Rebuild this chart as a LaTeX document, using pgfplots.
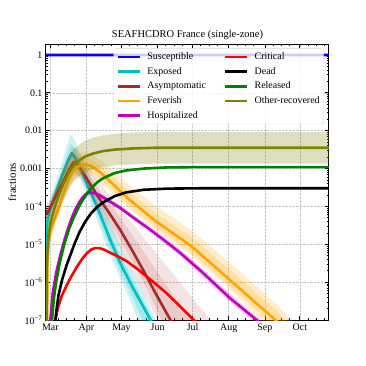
\documentclass[border=0pt]{standalone}
\usepackage{fontspec}
\setmainfont{Liberation Serif}
\usepackage{pgfplots}
\pgfplotsset{compat=1.18}
\definecolor{mcyan}{rgb}{0,0.75,0.75}
\definecolor{mbrown}{HTML}{A52A2A}
\definecolor{morange}{HTML}{FFA500}
\definecolor{mmag}{rgb}{0.75,0,0.75}
\definecolor{mgreen}{HTML}{008000}
\definecolor{molive}{HTML}{808000}
\begin{document}
\begin{tikzpicture}
\path[use as bounding box] (-46bp,-46bp) rectangle (320bp,320bp);
\begin{axis}[
  width=283bp, height=276bp, scale only axis,
  ymode=log, xmin=-3.7, xmax=239, ymin=1e-7, ymax=1.95,
  xtick={0,31,61,92,122,153,184,214},
  xticklabels={Mar,Apr,May,Jun,Jul,Aug,Sep,Oct},
  minor xtick={7,14,21,38,45,52,68,75,82,99,106,113,129,136,143,160,167,174,191,198,205,221,228,235},
  ytick={1e-7,1e-6,1e-5,1e-4,1e-3,1e-2,1e-1,1},
  yticklabels={10\textsuperscript{−7},10\textsuperscript{−6},10\textsuperscript{−5},10\textsuperscript{−4},0.001,0.01,0.1,1},
  minor ytick={2e-7,3e-7,4e-7,5e-7,6e-7,7e-7,8e-7,9e-7,2e-6,3e-6,4e-6,5e-6,6e-6,7e-6,8e-6,9e-6,2e-5,3e-5,4e-5,5e-5,6e-5,7e-5,8e-5,9e-5,2e-4,3e-4,4e-4,5e-4,6e-4,7e-4,8e-4,9e-4,2e-3,3e-3,4e-3,5e-3,6e-3,7e-3,8e-3,9e-3,2e-2,3e-2,4e-2,5e-2,6e-2,7e-2,8e-2,9e-2,2e-1,3e-1,4e-1,5e-1,6e-1,7e-1,8e-1,9e-1},
  tick align=inside,
  major tick length=4bp, minor tick length=2bp,
  every tick/.style={black, line width=0.7bp},
  axis line style={line width=1bp},
  grid=major, major grid style={densely dotted, gray!45, line width=0.5bp},
  tick label style={font=\fontsize{10}{12}\selectfont},
  title={SEAFHCDRO France (single-zone)},
  title style={font=\fontsize{10.5}{12.5}\selectfont, at={(0.5,1)}, anchor=south, yshift=-3.5bp, inner sep=2bp},
  ylabel={fractions},
  ylabel style={font=\fontsize{11}{13}\selectfont, at={(axis description cs:-0.12,0.5)}, anchor=center},
  legend columns=2,
  legend cell align=left,
  legend style={at={(0.982,0.984)}, anchor=north east, draw=gray!30, rounded corners=2bp,
    fill=white, fill opacity=0.8, text opacity=1, font=\fontsize{10}{12}\selectfont,
    inner sep=2.5bp, row sep=2.6bp,
    nodes={inner sep=1.5bp, text height=7bp, text depth=2bp},
    /tikz/every odd column/.append style={column sep=5bp},
    /tikz/every even column/.append style={column sep=16bp}},
  legend image code/.code={\draw[#1] (0bp,0bp) -- (22bp,0bp);},
  every axis plot/.append style={line join=round},
]
% Susceptible
\addplot[blue, line width=2.6bp, forget plot] coordinates {(-3.7,1) (239,0.996)};
% Exposed bands + line
\addplot[draw=none, fill=mcyan, fill opacity=0.2, forget plot] coordinates {
(-3.4,1e-6) (-3.2,2.512e-5) (0,1.778e-4) (10,1.413e-3) (17,7.943e-3) (20,6.607e-3) (30,1.259e-3) (40,2.399e-4) (50,4.467e-5) (60,8.913e-6) (70,1.995e-6) (80,5.012e-7) (95,5.012e-8)
(78,6.310e-8) (70,2.512e-7) (60,1.259e-6) (50,6.310e-6) (40,4.467e-5) (30,2.512e-4) (25,5.623e-4) (18.4,1.259e-3) (10,3.162e-4) (0,4.467e-5) (-3,5.012e-6) (-3.4,1e-9)};
\addplot[draw=none, fill=mcyan, fill opacity=0.2, forget plot] coordinates {
(-3.4,1e-6) (-3.2,1.585e-5) (0,1.259e-4) (10,9.550e-4) (17.5,4.467e-3) (21,3.548e-3) (30,7.943e-4) (40,1.585e-4) (50,2.818e-5) (60,5.370e-6) (70,1.259e-6) (90,7.943e-8)
(82,6.310e-8) (70,4.467e-7) (60,1.905e-6) (50,9.550e-6) (40,6.310e-5) (30,3.388e-4) (25,7.586e-4) (18.4,1.698e-3) (10,4.169e-4) (0,6.026e-5) (-3,7.943e-6) (-3.4,1e-9)};
\addplot[mcyan, line width=2.6bp, forget plot] coordinates {
(-3.5,1e-9) (-3.3,1e-5) (-3.0,3.162e-5) (-2,5.012e-5) (0,8.913e-5) (5,2.399e-4) (10,6.310e-4) (15,1.585e-3) (18.4,2.570e-3) (21,1.995e-3) (25,1.122e-3) (30,5.012e-4) (40,1e-4) (51,1.413e-5) (60,3.162e-6) (70,7.943e-7) (86,1e-7) (95,3.162e-8)};
% Asymptomatic
\addplot[draw=none, fill=mbrown, fill opacity=0.13, forget plot] coordinates {
(-3.7,1.122e-4) (0,1.585e-4) (10,7.943e-4) (19,3.548e-3) (22,3.311e-3) (30,1.413e-3) (40,5.012e-4) (60,8.710e-5) (80,1.514e-5) (100,2.630e-6) (120,4.467e-7) (140,7.943e-8)
(96,6.310e-8) (80,5.012e-7) (60,7.943e-6) (40,1e-4) (25,6.026e-4) (19,7.943e-4) (10,1.905e-4) (0,5.623e-5) (-3.7,4.467e-5)};
\addplot[draw=none, fill=mbrown, fill opacity=0.13, forget plot] coordinates {
(-3.7,9.550e-5) (0,1.259e-4) (10,5.623e-4) (19,2.399e-3) (22,2.291e-3) (30,1e-3) (40,3.311e-4) (60,5.012e-5) (80,6.310e-6) (100,7.943e-7) (120,1e-7) (125,5.623e-8)
(100,5.012e-8) (80,1e-6) (60,1.349e-5) (40,1.349e-4) (25,8.318e-4) (19,1.047e-3) (10,2.754e-4) (0,7.244e-5) (-3.7,5.888e-5)};
\addplot[mbrown, line width=2.6bp, forget plot] coordinates {
(-3.7,7.586e-5) (-2.5,6.607e-5) (-1.5,7.586e-5) (0,9.550e-5) (5,1.905e-4) (10,3.802e-4) (15,7.943e-4) (18,1.202e-3) (20,1.479e-3) (22,1.445e-3) (25,1.096e-3) (30,6.310e-4) (40,1.995e-4) (50,7.079e-5) (60,2.399e-5) (70,7.079e-6) (80,1.995e-6) (90,5.248e-7) (103,1e-7) (110,3.981e-8)};
% Feverish
\addplot[draw=none, fill=morange, fill opacity=0.2, forget plot] coordinates {
(-2.8,3.162e-6) (-1.5,1.995e-5) (0,5.012e-5) (8,2.239e-4) (16,1.072e-3) (24,2.399e-3) (30,2.692e-3) (36,2.399e-3) (50,1.122e-3) (67,3.715e-4) (90,1.047e-4) (121,2.344e-5) (158,2.512e-6) (193,2.818e-7) (212,7.079e-8)
(186,6.310e-8) (158,5.012e-7) (121,5.012e-6) (90,2.344e-5) (67,8.913e-5) (50,2.692e-4) (36,6.310e-4) (28,7.079e-4) (20,5.012e-4) (12,1.413e-4) (4,2.818e-5) (0,1.259e-5) (-1.5,3.981e-6) (-2.9,1e-9)};
\addplot[draw=none, fill=morange, fill opacity=0.2, forget plot] coordinates {
(-2.8,1.995e-6) (-1.5,1.514e-5) (0,3.631e-5) (8,1.660e-4) (16,8.128e-4) (24,1.738e-3) (30,1.905e-3) (36,1.698e-3) (50,7.762e-4) (67,2.512e-4) (90,6.761e-5) (121,1.549e-5) (158,1.660e-6) (193,1.905e-7) (205,7.943e-8)
(190,7.943e-8) (158,6.166e-7) (121,6.166e-6) (90,2.884e-5) (67,1.096e-4) (50,3.467e-4) (36,7.762e-4) (28,8.710e-4) (20,6.166e-4) (12,1.738e-4) (4,3.467e-5) (0,1.660e-5) (-1.5,6.310e-6) (-2.9,1e-9)};
\addplot[morange, line width=2.6bp, forget plot] coordinates {
(-2.9,1e-8) (-2.5,3.162e-6) (-1.5,1e-5) (0,2.399e-5) (4,5.012e-5) (8,1.096e-4) (12,2.512e-4) (16,5.370e-4) (20,8.913e-4) (24,1.148e-3) (28,1.259e-3) (32,1.259e-3) (36,1.122e-3) (42,8.318e-4) (50,5.012e-4) (67,1.585e-4) (90,4.169e-5) (121,8.913e-6) (158,8.913e-7) (193,1e-7) (205,4.467e-8)};
% Hospitalized
\addplot[draw=none, fill=mmag, fill opacity=0.2, forget plot] coordinates {
(0,1.259e-7) (5,2.089e-6) (12,1.445e-5) (18.4,5.754e-5) (25,1.514e-4) (34.2,2.692e-4) (42,2.291e-4) (60,1.072e-4) (85,3.020e-5) (111.5,7.413e-6) (154,5.012e-7) (185,7.413e-8)
(180,6.310e-8) (154,3.020e-7) (111.5,4.898e-6) (85,2.138e-5) (60,7.943e-5) (42,1.738e-4) (34.2,2.042e-4) (25,1.148e-4) (18.4,4.365e-5) (12,1.096e-5) (5,1.514e-6) (0,7.943e-8) (-0.5,1e-9)};
\addplot[mmag, line width=2.6bp, forget plot] coordinates {
(-0.5,1e-9) (0,1e-7) (2,5.012e-7) (5,1.778e-6) (8.3,4.786e-6) (12,1.259e-5) (15,2.512e-5) (18.4,5.012e-5) (22,8.913e-5) (25,1.318e-4) (28.3,1.820e-4) (31,2.188e-4) (34.2,2.344e-4) (38,2.239e-4) (42,1.995e-4) (50,1.413e-4) (60,9.120e-5) (70,5.370e-5) (85,2.512e-5) (100,1.122e-5) (111.5,5.888e-6) (130,1.862e-6) (154,3.802e-7) (177,1e-7) (185,5.623e-8)};
% Critical
\addplot[red, line width=2.6bp, forget plot] coordinates {
(3.8,1e-9) (4.3,1e-7) (5.5,1.514e-7) (6.9,2.291e-7) (10,4.467e-7) (14.1,8.318e-7) (18,1.413e-6) (22.7,2.512e-6) (27,3.981e-6) (31.2,5.754e-6) (35,7.244e-6) (38.4,7.943e-6) (42,7.943e-6) (46,7.244e-6) (51.2,6.026e-6) (59.9,4.467e-6) (65.6,3.548e-6) (75,2.188e-6) (87,1.096e-6) (100,5.012e-7) (110,2.512e-7) (123,1e-7) (130,6.026e-8)};
% Dead
\addplot[black, line width=2.6bp, forget plot] coordinates {
(3.6,1e-9) (4,6.310e-8) (5,1.585e-7) (7,4.467e-7) (10,1.122e-6) (14,2.818e-6) (17,5.012e-6) (21,1.072e-5) (25,2.089e-5) (30,3.981e-5) (35,6.607e-5) (40,9.550e-5) (45,1.259e-4) (55,1.862e-4) (65,2.344e-4) (80,2.754e-4) (100,2.951e-4) (130,3.020e-4) (240,3.020e-4)};
% Released
\addplot[mgreen, line width=2.6bp, forget plot] coordinates {
(1,1e-9) (1.5,1e-7) (3,3.548e-7) (5,1e-6) (8,3.162e-6) (12,1e-5) (16,2.512e-5) (20,5.012e-5) (25,1.047e-4) (30,1.905e-4) (35,3.020e-4) (40,4.266e-4) (45,5.495e-4) (55,7.586e-4) (65,8.913e-4) (80,1e-3) (100,1.072e-3) (130,1.096e-3) (240,1.096e-3)};
% Other-recovered
\addplot[draw=none, fill=molive, fill opacity=0.25, forget plot] coordinates {
(-3.3,1e-7) (-3.0,1e-5) (-2,3.311e-5) (0,9.333e-5) (4,2.630e-4) (8,5.888e-4) (12,1.175e-3) (16,2.089e-3) (20,3.162e-3) (25,4.365e-3) (30,5.495e-3) (37,6.607e-3) (45,7.586e-3) (55,8.318e-3) (70,8.913e-3) (90,9.333e-3) (240,9.333e-3)
(240,1.349e-3) (90,1.349e-3) (70,1.288e-3) (55,1.202e-3) (45,1.096e-3) (37,9.550e-4) (30,7.943e-4) (25,6.310e-4) (20,4.571e-4) (16,3.020e-4) (12,1.698e-4) (8,8.511e-5) (4,3.802e-5) (0,1.349e-5) (-2,4.786e-6) (-2.6,1e-9)};
\addplot[molive, line width=2.6bp, forget plot] coordinates {
(-3.2,1e-9) (-2.9,2.512e-6) (-2,1.259e-5) (0,3.548e-5) (4,1e-4) (8,2.239e-4) (12,4.467e-4) (16,7.943e-4) (20,1.202e-3) (25,1.660e-3) (30,2.089e-3) (37,2.512e-3) (45,2.884e-3) (55,3.162e-3) (70,3.388e-3) (90,3.548e-3) (240,3.548e-3)};
% legend
\addlegendimage{blue, line width=2.6bp}
\addlegendimage{red, line width=2.6bp}
\addlegendimage{mcyan, line width=2.6bp}
\addlegendimage{black, line width=2.6bp}
\addlegendimage{mbrown, line width=2.6bp}
\addlegendimage{mgreen, line width=2.6bp}
\addlegendimage{morange, line width=2.6bp}
\addlegendimage{molive, line width=2.6bp}
\addlegendimage{mmag, line width=2.6bp}
\legend{Susceptible,Critical,Exposed,Dead,Asymptomatic,Released,Feverish,Other-recovered,Hospitalized}
\node[anchor=north east, font=\fontsize{10}{12}\selectfont, inner sep=0pt] at (rel axis cs:1,0) [yshift=-10bp] {2020};
\end{axis}
\end{tikzpicture}
\end{document}
